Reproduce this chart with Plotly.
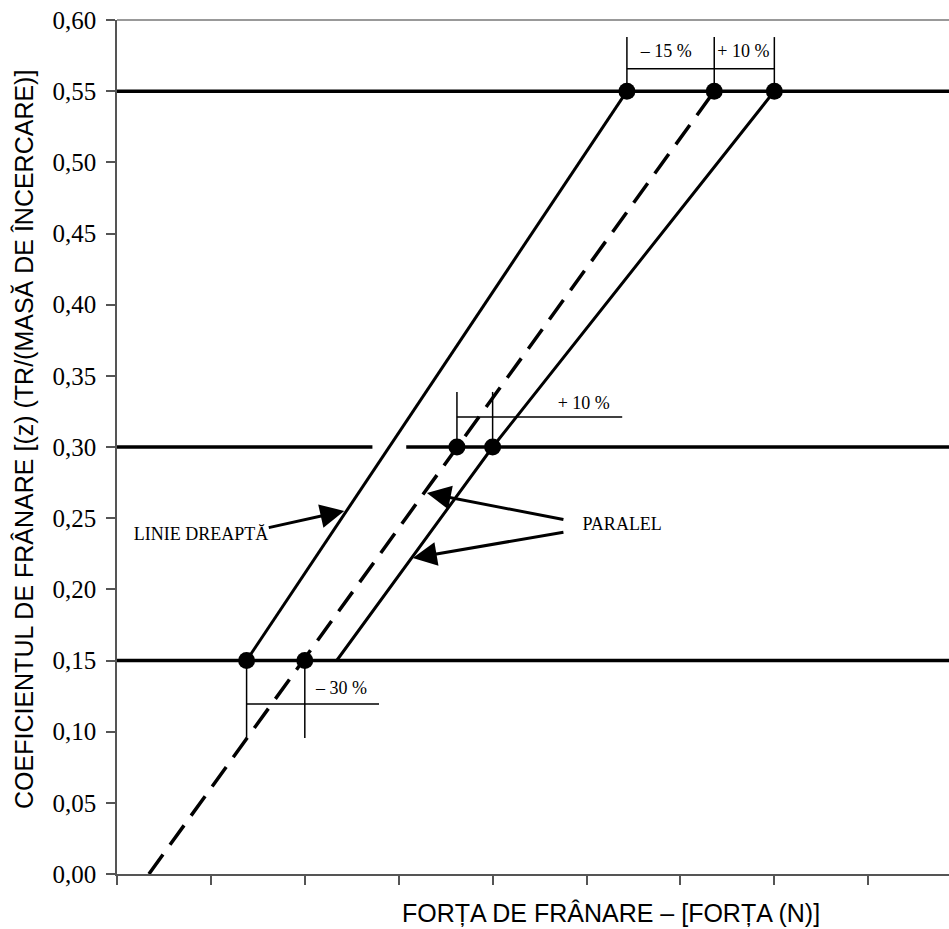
import plotly.graph_objects as go

# ---- data (axis units: x = force ticks, y = braking coefficient) ----
y_ticks = [0.00, 0.05, 0.10, 0.15, 0.20, 0.25, 0.30, 0.35, 0.40, 0.45, 0.50, 0.55, 0.60]
y_tick_text = ["0,00", "0,05", "0,10", "0,15", "0,20", "0,25", "0,30",
               "0,35", "0,40", "0,45", "0,50", "0,55", "0,60"]
x_ticks = [0, 1, 2, 3, 4, 5, 6, 7, 8]
x_max = 8.86

# horizontal reference levels
h055_x = [0, x_max]
h055_y = [0.55, 0.55]
h030_x = [0, 2.72, None, 3.08, x_max]
h030_y = [0.30, 0.30, None, 0.30, 0.30]
h015_x = [0, x_max]
h015_y = [0.15, 0.15]

# slanted lines
left_x = [1.38, 5.43]
left_y = [0.15, 0.55]
dashed_x = [0.34, 6.36]
dashed_y = [0.00, 0.55]
right_x = [2.34, 4.00, 7.00]
right_y = [0.15, 0.30, 0.55]

# points
dots_x = [1.38, 2.00, 3.62, 4.00, 5.43, 6.36, 7.00]
dots_y = [0.15, 0.15, 0.30, 0.30, 0.55, 0.55, 0.55]

# dimension lines
dim_x = [5.43, 5.43, None, 6.36, 6.36, None, 7.00, 7.00, None, 5.43, 7.00, None,
         3.62, 3.62, None, 4.00, 4.00, None, 3.62, 5.38, None,
         1.38, 1.38, None, 2.00, 2.00, None, 1.38, 2.79]
dim_y = [0.55, 0.588, None, 0.55, 0.588, None, 0.55, 0.588, None, 0.5657, 0.5657, None,
         0.30, 0.3387, None, 0.30, 0.3387, None, 0.3211, 0.3211, None,
         0.15, 0.0956, None, 0.15, 0.0956, None, 0.1195, 0.1195]

# labels
label_text = ["\u2013 15 %", "+ 10 %", "+ 10 %", "\u2013 30 %", "LINIE DREAPT\u0102", "PARALEL"]
label_x = [5.85, 6.67, 4.97, 2.39, 0.895, 5.38]
label_y = [0.577, 0.577, 0.3296, 0.1293, 0.2375, 0.2446]

# arrows: tail -> tip
arrow_tail_x = [1.60, 4.77, 4.77]
arrow_tail_y = [0.2431, 0.2488, 0.2403]
arrow_tip_x = [2.42, 3.30, 3.15]
arrow_tip_y = [0.2551, 0.2677, 0.2220]

BLACK = "#000000"
SERIF = "Liberation Serif"
SANS = "Liberation Sans"

fig = go.Figure()
for xs, ys in [(h055_x, h055_y), (h030_x, h030_y), (h015_x, h015_y)]:
    fig.add_trace(go.Scatter(x=xs, y=ys, mode="lines",
                             line=dict(color=BLACK, width=3.5), hoverinfo="skip"))
fig.add_trace(go.Scatter(x=left_x, y=left_y, mode="lines",
                         line=dict(color=BLACK, width=3), hoverinfo="skip"))
fig.add_trace(go.Scatter(x=right_x, y=right_y, mode="lines",
                         line=dict(color=BLACK, width=3), hoverinfo="skip"))
fig.add_trace(go.Scatter(x=dashed_x, y=dashed_y, mode="lines",
                         line=dict(color=BLACK, width=3.5, dash="24px,12px"), hoverinfo="skip"))
fig.add_trace(go.Scatter(x=dim_x, y=dim_y, mode="lines",
                         line=dict(color=BLACK, width=1.5), hoverinfo="skip"))
fig.add_trace(go.Scatter(x=dots_x, y=dots_y, mode="markers",
                         marker=dict(color=BLACK, size=17), hoverinfo="skip"))
fig.add_trace(go.Scatter(x=label_x, y=label_y, mode="text", text=label_text,
                         textposition="middle center",
                         textfont=dict(family=SERIF, size=18, color=BLACK),
                         hoverinfo="skip", cliponaxis=False))

for tx, ty, hx, hy in zip(arrow_tail_x, arrow_tail_y, arrow_tip_x, arrow_tip_y):
    fig.add_annotation(x=hx, y=hy, ax=tx, ay=ty, xref="x", yref="y", axref="x", ayref="y",
                       text="", showarrow=True, arrowhead=2, arrowsize=1.6,
                       arrowwidth=3, arrowcolor=BLACK)

# axis titles
fig.add_annotation(text="COEFICIENTUL DE FR\u00c2NARE [(z) (TR/(MAS\u0102 DE \u00ceNCERCARE)]",
                   xref="paper", yref="paper", x=(24 - 117) / 832, y=(874 - 440) / 854,
                   xanchor="center", yanchor="middle", textangle=-90, showarrow=False,
                   font=dict(family=SANS, size=25, color=BLACK))
fig.add_annotation(text="FOR\u021aA DE FR\u00c2NARE \u2013 [FOR\u021aA (N)]",
                   xref="paper", yref="paper", x=(611 - 117) / 832, y=0, yshift=-39,
                   xanchor="center", yanchor="middle", showarrow=False,
                   font=dict(family=SANS, size=25, color=BLACK))

# top frame line
fig.add_shape(type="line", xref="paper", yref="paper", x0=0, x1=1, y0=1, y1=1,
              line=dict(color="#999999", width=2))

fig.update_layout(
    width=949, height=929,
    margin=dict(l=117, r=0, t=20, b=55),
    paper_bgcolor="white", plot_bgcolor="white",
    font=dict(family=SERIF, color=BLACK),
    showlegend=False,
    xaxis=dict(range=[0, x_max], tickvals=x_ticks, showticklabels=False,
               ticks="outside", ticklen=9, tickwidth=1.5, tickcolor="#555555",
               showline=True, linecolor="#555555", linewidth=2,
               showgrid=False, zeroline=False, fixedrange=True),
    yaxis=dict(range=[0, 0.60], tickmode="array", tickvals=y_ticks, ticktext=y_tick_text,
               ticks="outside", ticklen=9, tickwidth=1.5, tickcolor="#555555",
               ticklabelstandoff=5,
               tickfont=dict(family=SERIF, size=25, color=BLACK),
               showline=True, linecolor="#555555", linewidth=1.5,
               showgrid=False, zeroline=False, fixedrange=True),
)

fig.write_html("out.html")
